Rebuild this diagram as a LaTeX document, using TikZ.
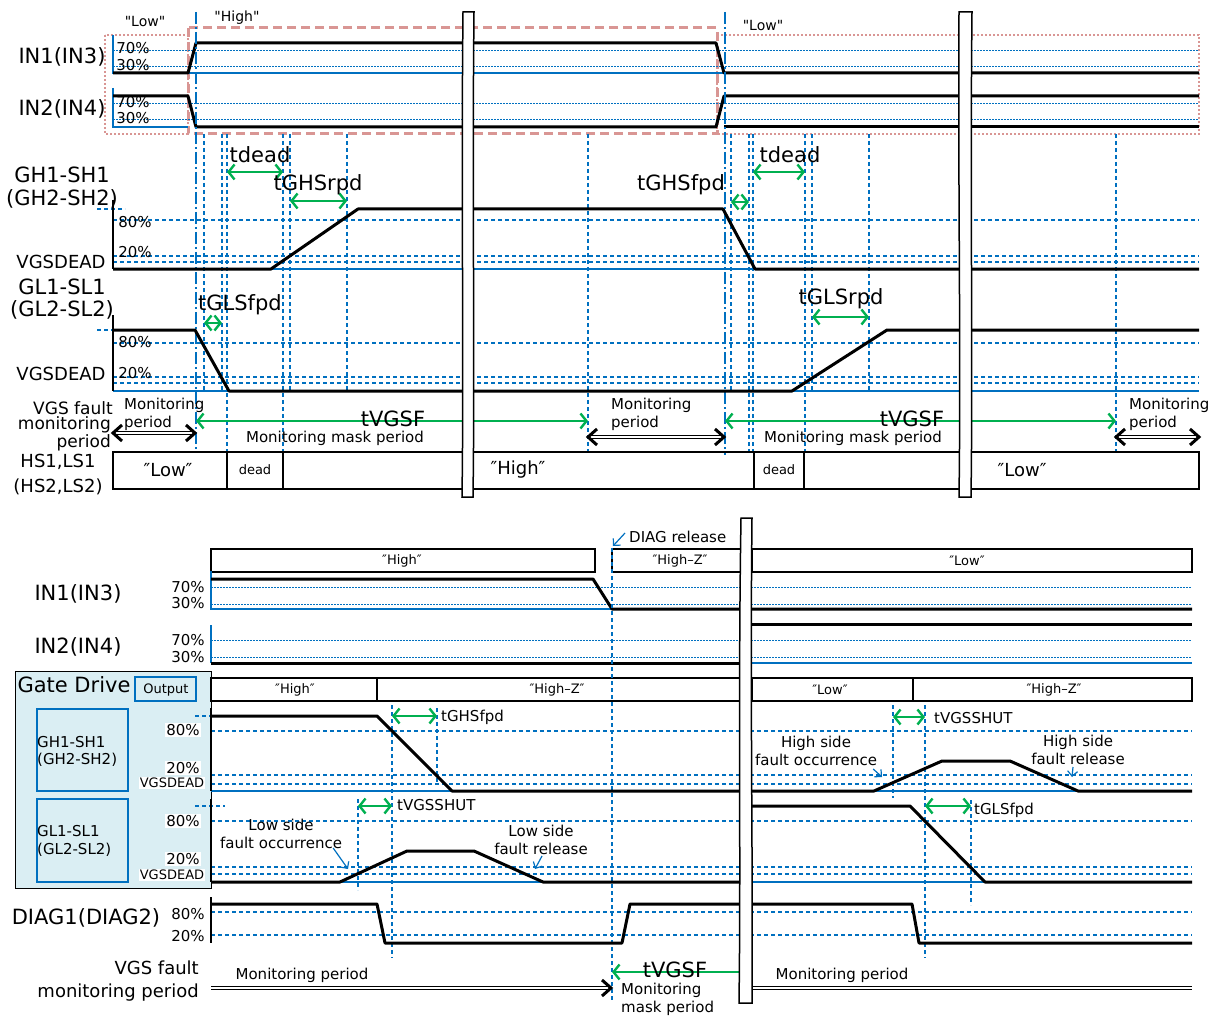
\documentclass[tikz,border=0pt]{standalone}
\usepackage{fontspec}
\setmainfont{DejaVu Sans}
\newfontfamily\plainfam{DejaVu Sans}
\usetikzlibrary{arrows.meta,positioning}
\definecolor{BL}{HTML}{0070C0}
\definecolor{GR}{HTML}{00B050}
\definecolor{RD}{HTML}{D99694}
\definecolor{GD}{HTML}{DAEEF3}
\tikzset{
  sig/.style={line width=3pt,line join=round},
  grid/.style={BL,line width=2.2pt,dash pattern=on 4pt off 3pt},
  fine/.style={BL,line width=1pt,dash pattern=on 1.5pt off 1.5pt},
  base/.style={BL,line width=1.4pt},
  ddot/.style={BL,line width=2pt,dash pattern=on 12pt off 3pt on 2pt off 3pt},
  span/.style={GR,line width=2.4pt,{Straight Barb[length=6pt,width=15pt]}-{Straight Barb[length=6pt,width=15pt]}},
  hollow/.style={draw=black,line width=0.9pt,double=white,double distance=1.6pt},
  chev/.style={line width=3pt,line join=miter},
  note/.style={BL,line width=1.2pt,-{Straight Barb[length=5pt,width=10pt]}},
  brk/.style={fill=white,draw=black,line width=1.5pt},
  state/.style={draw=black,line width=1.5pt},
  txtA/.style={font=\fontsize{21}{24}\selectfont,inner sep=1pt},
  txtB/.style={font=\fontsize{18}{21}\selectfont,inner sep=1pt},
  txtC/.style={font=\fontsize{15}{18}\selectfont,inner sep=1pt},
  txtD/.style={font=\fontsize{13}{15}\selectfont,inner sep=1pt},
}

\begin{document}
\begin{tikzpicture}[x=1pt,y=-1pt]
\useasboundingbox (0,0) rectangle (1209,1016);

% ---------- upper chart: normal switching ----------
\draw[RD,line width=1.2pt,dash pattern=on 2pt off 2pt] (105,35) rectangle (188,134);
\draw[RD,line width=1.2pt,dash pattern=on 2pt off 2pt] (717,35) rectangle (1199,134);
\draw[RD,line width=3pt,dash pattern=on 9pt off 5pt] (188,28) rectangle (717,134);
\node[txtD,font=\plainfam\fontsize{14}{16}\selectfont] (lowA) at (145,22) {"Low"};
\node[txtD,font=\plainfam\fontsize{14}{16}\selectfont] (highA) at (237,18) {"High"};
\node[txtD,font=\plainfam\fontsize{14}{16}\selectfont] (lowB) at (763,25) {"Low"};

% input levels
\foreach \yy in {51,67,104,120}
  \draw[fine] (113,\yy) -- (1199,\yy);
\draw[base] (113,35) -- (113,73) -- (1199,73);
\draw[base] (113,88) -- (113,127) -- (188,127);
\draw[sig] (113,73) -- (188,73) -- (196,43) -- (716,43) -- (724,73) -- (1199,73);
\draw[sig] (113,96) -- (188,96) -- (196,127) -- (716,127) -- (724,96) -- (1199,96);
\draw[sig] (724,127) -- (1199,127);
\node[txtA] (in1) at (62,57) {IN1(IN3)};
\node[txtA] (in2) at (62,109) {IN2(IN4)};
\node[txtC] (p70a) at (133,48) {70\%};
\node[txtC] (p30a) at (133,65) {30\%};
\node[txtC] (p70b) at (133,102) {70\%};
\node[txtC] (p30b) at (133,118) {30\%};

% gate levels
\foreach \yy in {220,256,262,343,377,383}
  \draw[grid] (113,\yy) -- (1199,\yy);
\draw[grid] (97,209) -- (125,209);
\draw[grid] (97,330) -- (113,330);
\draw[base] (113,269) -- (1199,269);
\draw[base] (113,391) -- (1199,391);
\foreach \xx/\yb in {204/392,222/392,227/452,283/452,290/392,347/392,588/452,
                     731/392,749/452,753/452,805/452,812/392,869/392,1116/452}
  \draw[grid] (\xx,134) -- (\xx,\yb);
\draw[ddot] (196,12) -- (196,452);
\draw[ddot] (725,12) -- (725,455);

\draw[line width=1.5pt] (113,200) -- (113,269);
\draw[line width=1.5pt] (113,315) -- (113,391);
\draw[sig] (113,269) -- (271,269) -- (358,209) -- (723,209) -- (755,269) -- (1199,269);
\draw[sig] (113,330) -- (195,330) -- (229,391) -- (792,391) -- (887,330) -- (1199,330);
\node[txtA] (gh) at (62,175) {GH1-SH1};
\node[txtA] (ghb) at (62,199) {(GH2-SH2)};
\node[txtC] (p80c) at (135,222) {80\%};
\node[txtC] (p20c) at (135,252) {20\%};
\node[txtB] (vdA) at (61,262) {VGSDEAD};
\node[txtA] (gl) at (62,287) {GL1-SL1};
\node[txtA] (glb) at (62,310) {(GL2-SL2)};
\node[txtC] (p80d) at (135,342) {80\%};
\node[txtC] (p20d) at (135,373) {20\%};
\node[txtB] (vdB) at (61,374) {VGSDEAD};

% timing spans
\foreach \nm/\xa/\xb/\yy in {dA/227/283/172,rA/290/347/201,fA/204/222/323,
                             fB/731/749/202,dB/753/805/172,rB/812/869/317}{
  \coordinate (\nm a) at (\xa,\yy);
  \coordinate (\nm b) at (\xb,\yy);
  \draw[span] (\nm a) -- (\nm b);
}
\node[txtA] (tdA) at (260,155) {tdead};
\node[txtA] (tGHr) at (318,185) {tGHSrpd};
\node[txtA] (tGLf) at (240,305) {tGLSfpd};
\node[txtA] (tGHf) at (681,185) {tGHSfpd};
\node[txtA] (tdB) at (790,155) {tdead};
\node[txtA] (tGLr) at (841,299) {tGLSrpd};

% fault monitoring
\coordinate (vA) at (196,421); \coordinate (vB) at (588,421);
\coordinate (vC) at (725,421); \coordinate (vD) at (1116,421);
\draw[span] (vA) -- (vB);
\draw[span] (vC) -- (vD);
\node[txtA] (vgsfA) at (393,419) {tVGSF};
\node[txtA] (vgsfB) at (912,419) {tVGSF};
\node[txtC] (mmA) at (335,438) {Monitoring mask period};
\node[txtC] (mmB) at (853,438) {Monitoring mask period};
\foreach \nm/\xa/\xb/\yy/\xt in {mA/113/195/433/123,mB/588/724/437/610,mC/1116/1199/437/1128}{
  \coordinate (\nm l) at (\xa,\yy);
  \coordinate (\nm r) at (\xb,\yy);
  \draw[hollow] (\nm l) -- (\nm r);
  \draw[chev] (\nm l) ++(9,-8) -- (\nm l) -- ++(9,8);
  \draw[chev] (\nm r) ++(-9,-8) -- (\nm r) -- ++(-9,8);
  \node[txtC,anchor=west] (\nm t) at (\xt,405) {Monitoring};
  \node[txtC,anchor=west] (\nm p) at (\xt,423) {period};
}
\node[txtB,anchor=east,font=\fontsize{17}{19}\selectfont] (vgA) at (114,408) {VGS fault};
\node[txtB,anchor=east,font=\fontsize{17}{19}\selectfont] (vgB) at (112,425) {monitoring};
\node[txtB,anchor=east,font=\fontsize{17}{19}\selectfont] (vgC) at (112,443) {period};

% output state
\draw[state] (113,452) rectangle (1199,489);
\foreach \xx in {227,283,754,804}
  \draw[state] (\xx,452) -- (\xx,489);
\node[txtB] (sLA) at (168,470) {″Low″};
\node[txtD] (sDA) at (255,470) {dead};
\node[txtB] (sHA) at (518,470) {″High″};
\node[txtD] (sDB) at (779,470) {dead};
\node[txtB] (sLB) at (1022,470) {″Low″};
\node[txtB] (hs) at (58,462) {HS1,LS1};
\node[txtB] (hsb) at (58,487) {(HS2,LS2)};

\draw[brk] (463,12) -- (474,12) .. controls (472,200) and (475,350) .. (473,497)
  -- (462,497) .. controls (464,350) and (461,200) .. (463,12) -- cycle;
\draw[brk] (959,12) -- (972,12) .. controls (970,200) and (973,350) .. (971,497)
  -- (959,497) .. controls (961,350) and (958,200) .. (959,12) -- cycle;

% ---------- lower chart: VGS fault ----------
\node[txtC,anchor=west] (diag) at (628,537) {DIAG release};
\draw[note] (diag.west) ++(-3,-4) -- (613,546);
\draw[state] (211,549) rectangle (595,572);
\draw[state] (612,549) rectangle (746,572);
\draw[state] (752,549) rectangle (1192,572);
\node[txtD] (iH) at (402,561) {″High″};
\node[txtD] (iZ) at (680,561) {″High–Z″};
\node[txtD] (iL) at (967,561) {″Low″};

\foreach \yy in {587,604,640,657}
  \draw[fine] (211,\yy) -- (1192,\yy);
\draw[base] (211,571) -- (211,609) -- (612,609);
\draw[base] (211,625) -- (211,663);
\draw[base] (752,663) -- (1192,663);
\draw[sig] (211,579) -- (593,579) -- (612,609) -- (1192,609);
\draw[sig] (211,663) -- (742,663);
\draw[sig] (752,624) -- (1192,624);
\node[txtA] (in1b) at (78,594) {IN1(IN3)};
\node[txtA] (in2b) at (78,647) {IN2(IN4)};
\node[txtC] (q70a) at (188,587) {70\%};
\node[txtC] (q30a) at (188,603) {30\%};
\node[txtC] (q70b) at (188,640) {70\%};
\node[txtC] (q30b) at (188,657) {30\%};

% gate drive panel
\draw[fill=GD,line width=1pt] (15,671) rectangle (211,888);
\node[txtA] (gdrv) at (74,685) {Gate Drive};
\draw[BL,line width=1.5pt] (135,677) rectangle (196,701);
\node[txtD] (outp) at (166,690) {Output};
\draw[BL,line width=1.5pt] (37,709) rectangle (128,791);
\draw[BL,line width=1.5pt] (37,799) rectangle (128,882);
\node[txtC,anchor=west] (gh2) at (36,742) {GH1-SH1};
\node[txtC,anchor=west] (gh2b) at (36,760) {(GH2-SH2)};
\node[txtC,anchor=west] (gl2) at (36,831) {GL1-SL1};
\node[txtC,anchor=west] (gl2b) at (36,850) {(GL2-SL2)};

\draw[state] (211,678) rectangle (742,701);
\draw[state] (377,678) -- (377,701);
\draw[state] (752,678) rectangle (1192,701);
\draw[state] (913,678) -- (913,701);
\node[txtD] (gH) at (295,690) {″High″};
\node[txtD] (gZ) at (557,690) {″High–Z″};
\node[txtD] (gL) at (830,690) {″Low″};
\node[txtD] (gZb) at (1054,690) {″High–Z″};

\foreach \yy in {731,775,784,821,867,874,912,935}
  \draw[grid] (211,\yy) -- (1192,\yy);
\draw[grid] (195,716) -- (211,716);
\draw[grid] (195,806) -- (225,806);
\draw[base] (211,791) -- (1192,791);
\draw[base] (211,882) -- (1192,882);
\foreach \xx/\ya/\yb in {358/799/890,392/705/958,437/708/782,612/548/1000,
                         893/705/798,925/705/958,971/800/905}
  \draw[grid] (\xx,\ya) -- (\xx,\yb);

\draw[line width=1.5pt] (211,708) -- (211,791);
\draw[line width=1.5pt] (211,799) -- (211,882);
\draw[line width=1.5pt] (211,897) -- (211,943);
\draw[sig] (211,716) -- (377,716) -- (452,791) -- (742,791);
\draw[sig] (752,791) -- (874,791) -- (942,761) -- (1010,761) -- (1078,791) -- (1192,791);
\draw[sig] (211,882) -- (340,882) -- (407,851) -- (474,851) -- (543,882) -- (742,882);
\draw[sig] (752,806) -- (910,806) -- (985,882) -- (1192,882);
\draw[sig] (211,904) -- (377,904) -- (385,943) -- (622,943) -- (630,904) -- (742,904);
\draw[sig] (752,904) -- (912,904) -- (919,943) -- (1192,943);

\node[txtC,fill=white] (r80a) at (183,730) {80\%};
\node[txtC,fill=white] (r20a) at (183,768) {20\%};
\node[txtD,fill=white] (rvdA) at (172,783) {VGSDEAD};
\node[txtC,fill=white] (r80b) at (183,821) {80\%};
\node[txtC,fill=white] (r20b) at (183,859) {20\%};
\node[txtD,fill=white] (rvdB) at (172,875) {VGSDEAD};
\node[txtC] (r80c) at (188,914) {80\%};
\node[txtC] (r20c) at (188,936) {20\%};
\node[txtA] (diagl) at (86,918) {DIAG1(DIAG2)};

\foreach \nm/\xa/\xb/\yy in {sA/392/437/716,sB/358/392/806,sC/893/925/717,sD/925/971/806}{
  \coordinate (\nm a) at (\xa,\yy);
  \coordinate (\nm b) at (\xb,\yy);
  \draw[span] (\nm a) -- (\nm b);
}
\node[txtC,anchor=west] (tGHfb) at (440,717) {tGHSfpd};
\node[txtC,anchor=west] (tShA) at (396,805) {tVGSSHUT};
\node[txtC,anchor=west] (tShB) at (933,718) {tVGSSHUT};
\node[txtC,anchor=west] (tGLfb) at (973,810) {tGLSfpd};

% fault notes
\node[txtC,align=center] (lso) at (281,834) {Low side\\fault occurrence};
\node[txtC,align=center] (lsr) at (541,840) {Low side\\fault release};
\node[txtC,align=center] (hso) at (816,751) {High side\\fault occurrence};
\node[txtC,align=center] (hsr) at (1078,750) {High side\\fault release};
\coordinate (lsoP) at (348,869); \coordinate (lsrP) at (535,869);
\coordinate (hsoP) at (882,777); \coordinate (hsrP) at (1072,777);
\draw[note] (lso.south east) ++(-10,-2) -- (lsoP);
\draw[note] (lsr.south) ++(1,0) -- (lsrP);
\draw[note] (hso.south east) ++(-5,2) -- (hsoP);
\draw[note] (hsr.south) ++(-5,1) -- (hsrP);

% bottom monitoring line
\node[txtB,anchor=east] (vgD) at (200,968) {VGS fault};
\node[txtB,anchor=east] (vgE) at (200,993) {monitoring period};
\coordinate (bA) at (211,988); \coordinate (bB) at (611,988);
\coordinate (bC) at (752,988); \coordinate (bD) at (1192,988);
\draw[hollow] (bA) -- (bB);
\draw[chev] (bB) ++(-9,-8) -- (bB) -- ++(-9,8);
\draw[hollow] (bC) -- (bD);
\node[txtC] (mpA) at (302,975) {Monitoring period};
\node[txtC] (mpB) at (842,975) {Monitoring period};
\coordinate (gA) at (742,972); \coordinate (gB) at (612,972);
\draw[GR,line width=2.4pt,-{Straight Barb[length=6pt,width=15pt]}] (gA) -- (gB);
\node[txtA] (vgsfC) at (675,970) {tVGSF};
\node[txtC,anchor=west] (mmC) at (620,990) {Monitoring};
\node[txtC,anchor=west] (mmD) at (620,1008) {mask period};

\draw[brk] (741,518) -- (752,518) .. controls (750,700) and (753,850) .. (752,1003)
  -- (739,1003) .. controls (741,850) and (738,700) .. (741,518) -- cycle;
\end{tikzpicture}
\end{document}
